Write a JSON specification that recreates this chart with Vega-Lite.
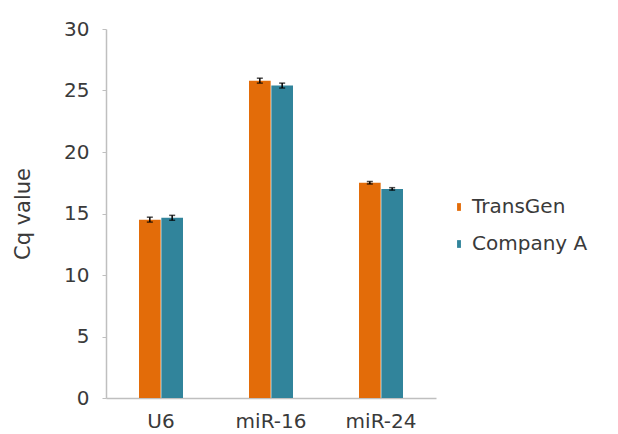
{
  "$schema": "https://vega.github.io/schema/vega-lite/v6.json",
  "autosize": "none",
  "width": 330,
  "height": 369,
  "padding": {"left": 106, "top": 29, "right": 182, "bottom": 36},
  "background": "white",
  "config": {
    "view": {"stroke": null},
    "font": "DejaVu Sans",
    "axis": {"grid": false, "domainColor": "#bfbfbf", "tickColor": "#bfbfbf", "labelColor": "#3a3a3a", "titleColor": "#3a3a3a", "labelFont": "DejaVu Sans", "titleFont": "DejaVu Sans"}
  },
  "data": {
    "values": [
      {"gene": "U6", "kit": "TransGen", "cq": 14.5, "lo": 14.3, "hi": 14.7},
      {"gene": "U6", "kit": "Company A", "cq": 14.65, "lo": 14.45, "hi": 14.85},
      {"gene": "miR-16", "kit": "TransGen", "cq": 25.8, "lo": 25.6, "hi": 26.0},
      {"gene": "miR-16", "kit": "Company A", "cq": 25.4, "lo": 25.2, "hi": 25.6},
      {"gene": "miR-24", "kit": "TransGen", "cq": 17.5, "lo": 17.4, "hi": 17.6},
      {"gene": "miR-24", "kit": "Company A", "cq": 17.0, "lo": 16.9, "hi": 17.1}
    ]
  },
  "encoding": {
    "x": {
      "field": "gene", "type": "nominal", "sort": ["U6", "miR-16", "miR-24"],
      "scale": {"paddingInner": 0.6, "paddingOuter": 0.3},
      "axis": {"title": null, "labelAngle": 0, "labelFontSize": 20, "labelPadding": 13, "ticks": false, "domainWidth": 1.5}
    },
    "xOffset": {"field": "kit", "type": "nominal", "sort": ["TransGen", "Company A"], "scale": {"paddingInner": 0.03}}
  },
  "layer": [
    {
      "mark": {"type": "bar"},
      "encoding": {
        "y": {
          "field": "cq", "type": "quantitative",
          "scale": {"domain": [0, 30], "nice": false},
          "axis": {"title": "Cq value", "values": [0, 5, 10, 15, 20, 25, 30], "labelFontSize": 20, "titleFontSize": 21, "titleFontWeight": "normal", "tickSize": 4, "labelPadding": 13, "titlePadding": 30, "domainWidth": 1.5}
        },
        "color": {
          "field": "kit", "type": "nominal", "sort": ["TransGen", "Company A"],
          "scale": {"domain": ["TransGen", "Company A"], "range": ["#E36C09", "#31849B"]},
          "legend": {"title": null, "orient": "none", "legendX": 343, "legendY": 168, "labelFontSize": 20, "labelColor": "#3a3a3a", "symbolType": "M-0.5,-1H0.5V1H-0.5Z", "symbolSize": 60, "rowPadding": 17, "labelOffset": 3}
        }
      }
    },
    {
      "mark": {"type": "rule", "color": "black", "strokeWidth": 1.5},
      "encoding": {
        "y": {"field": "lo", "type": "quantitative"},
        "y2": {"field": "hi"}
      }
    },
    {
      "mark": {"type": "tick", "color": "black", "size": 6, "thickness": 1.5},
      "encoding": {"y": {"field": "lo", "type": "quantitative"}}
    },
    {
      "mark": {"type": "tick", "color": "black", "size": 6, "thickness": 1.5},
      "encoding": {"y": {"field": "hi", "type": "quantitative"}}
    }
  ]
}
